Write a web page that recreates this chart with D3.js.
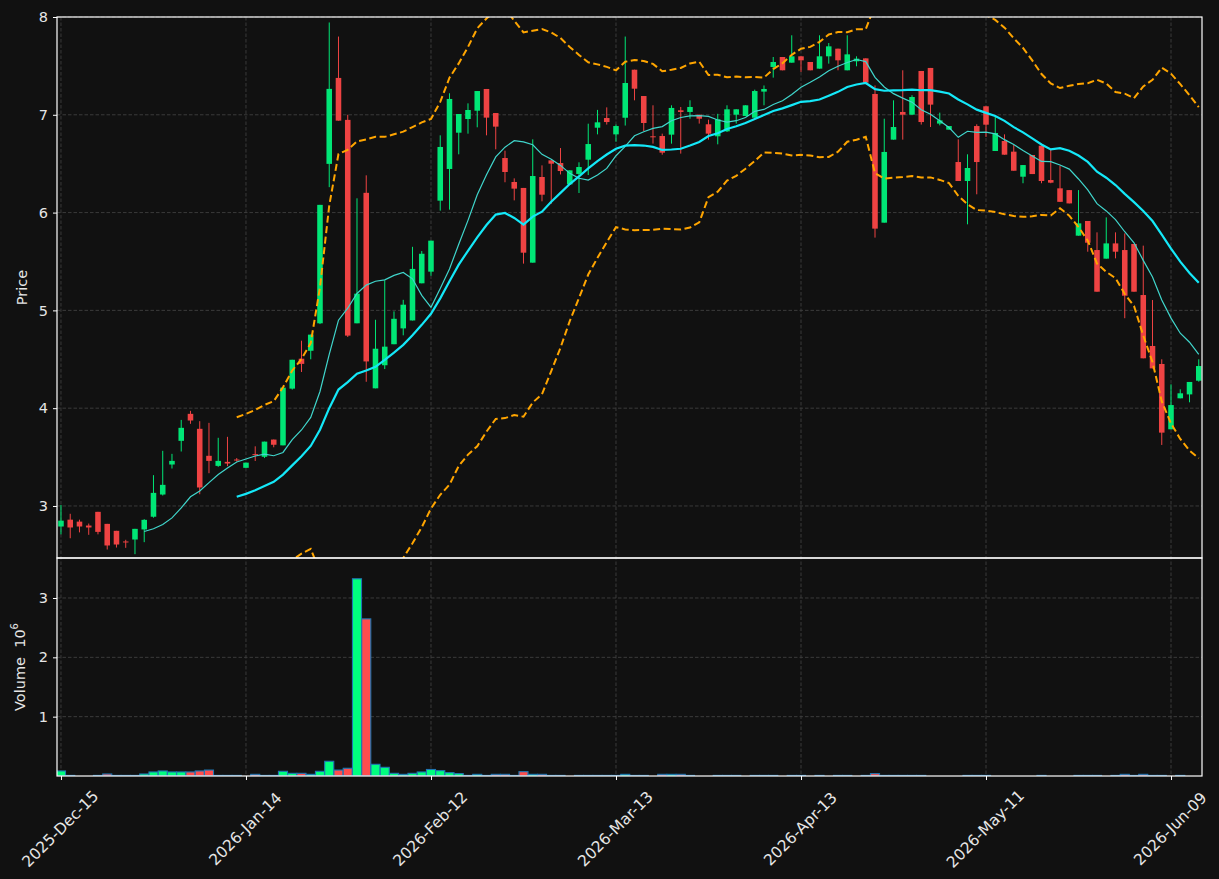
<!DOCTYPE html>
<html>
<head>
<meta charset="utf-8">
<script src="https://cdn.jsdelivr.net/npm/d3@7/dist/d3.min.js"></script>
<style>
  html, body { margin: 0; padding: 0; background: #111111; }
  svg { display: block; }
</style>
</head>
<body>
<div id="chart"></div>
<script>
// ---------------- DATA ----------------
const openP = [2.79,2.86,2.84,2.80,2.94,2.817,2.746,2.637,2.657,2.76,
  2.89,3.117,3.424,3.666,3.942,3.789,3.513,3.41,3.451,3.475,
  3.39,3.53,3.503,3.679,3.62,4.20,4.506,4.587,4.868,6.498,
  7.377,6.948,4.868,6.202,4.203,4.439,4.654,4.816,4.897,5.277,
  5.396,6.122,6.446,6.817,6.957,7.042,7.264,7.018,6.558,6.313,
  6.252,5.488,6.364,6.534,6.507,6.289,6.395,6.541,6.868,6.967,
  6.80,6.97,7.461,7.192,6.78,6.783,6.797,7.046,7.029,7.001,
  6.903,6.78,6.831,7.001,6.988,6.97,7.237,7.489,7.591,7.533,
  7.598,7.54,7.472,7.598,7.676,7.455,7.547,7.577,7.213,5.897,
  6.746,7.029,7.001,7.448,7.479,6.91,6.848,6.517,6.323,6.885,
  7.087,6.63,6.732,6.623,6.367,6.589,6.684,6.333,6.248,6.23,
  5.764,5.914,5.617,5.529,5.685,5.617,5.679,5.157,4.636,4.452,
  3.784,4.101,4.141,4.281];
const highP = [3.01,2.92,2.86,2.82,2.94,2.817,2.746,2.654,2.766,2.865,
  3.315,3.564,3.533,3.88,3.973,3.867,3.85,3.697,3.707,3.49,
  3.443,3.61,3.658,3.679,4.21,4.495,4.69,4.752,6.079,7.944,
  7.80,7.0,6.146,6.381,4.904,5.308,4.99,5.108,5.65,5.607,
  5.713,6.79,7.22,7.008,7.117,7.243,7.264,7.018,6.633,6.35,
  6.252,6.749,6.483,6.534,6.66,6.432,6.514,6.909,7.05,7.076,
  6.90,7.80,7.461,7.192,7.097,6.807,7.097,7.08,7.148,7.001,
  6.95,7.01,7.097,7.056,7.097,7.257,7.30,7.591,7.591,7.813,
  7.598,7.54,7.813,7.734,7.676,7.813,7.598,7.577,7.30,6.96,
  7.148,7.455,7.2,7.448,7.479,7.022,6.885,6.749,6.596,6.903,
  7.087,6.984,6.80,6.691,6.486,6.589,6.684,6.64,6.48,6.23,
  6.23,5.914,5.798,5.951,5.798,5.787,5.679,5.662,5.106,4.50,
  4.244,4.193,4.268,4.50];
const lowP = [2.71,2.67,2.73,2.705,2.71,2.555,2.575,2.572,2.507,2.63,
  2.88,3.107,3.383,3.557,3.84,3.12,3.335,3.40,3.407,3.455,
  3.39,3.46,3.49,3.60,3.62,4.19,4.37,4.50,4.86,6.26,
  6.94,4.728,4.868,4.27,4.203,4.40,4.654,4.745,4.897,5.277,
  5.354,6.02,6.03,6.596,6.807,6.872,6.79,6.647,6.31,6.125,
  5.478,5.488,6.115,6.09,6.39,6.289,6.20,6.384,6.80,6.90,
  6.725,6.89,7.148,6.834,6.705,6.592,6.705,6.603,6.96,6.91,
  6.746,6.698,6.824,6.91,6.988,6.97,7.097,7.38,7.455,7.533,
  7.438,7.455,7.472,7.523,7.455,7.455,7.496,7.329,5.744,5.897,
  6.746,6.746,7.001,6.90,6.875,6.892,6.848,6.323,5.88,6.187,
  6.773,6.63,6.592,6.428,6.30,6.394,6.30,6.30,6.11,6.094,
  5.764,5.60,5.191,5.529,5.532,4.92,5.191,4.51,4.407,3.624,
  3.784,4.101,4.06,4.271];
const closeP = [2.85,2.78,2.79,2.78,2.735,2.596,2.606,2.627,2.766,2.858,
  3.134,3.216,3.461,3.799,3.874,3.189,3.461,3.461,3.434,3.47,
  3.443,3.52,3.658,3.626,4.21,4.495,4.453,4.752,6.079,7.265,
  6.94,4.742,5.171,4.478,4.608,4.629,4.914,5.058,5.424,5.579,
  5.713,6.671,7.162,7.008,7.049,7.243,6.971,6.879,6.415,6.245,
  5.59,6.374,6.183,6.50,6.425,6.432,6.466,6.701,6.923,6.926,
  6.885,7.325,7.267,6.916,6.77,6.613,7.07,7.029,7.08,6.96,
  6.807,6.954,7.056,7.056,7.097,7.243,7.264,7.54,7.455,7.598,
  7.557,7.455,7.598,7.70,7.557,7.618,7.574,7.329,5.836,6.62,
  6.875,7.001,7.182,6.926,7.104,6.943,6.885,6.323,6.456,6.517,
  6.899,6.814,6.592,6.428,6.486,6.394,6.323,6.306,6.11,6.094,
  5.89,5.692,5.191,5.685,5.60,5.15,5.191,4.51,4.407,3.75,
  4.032,4.152,4.268,4.431];
// volume in millions
const volumeM = [0.085,0.01,0,0,0.01,0.034,0.01,0.01,0.01,0.034,
  0.068,0.085,0.068,0.068,0.068,0.085,0.10,0.01,0.01,0.01,
  0,0.028,0.01,0.01,0.079,0.045,0.045,0.028,0.079,0.248,
  0.10,0.13,3.324,2.648,0.197,0.146,0.045,0.028,0.045,0.068,
  0.11,0.09,0.056,0.04,0.01,0.028,0.01,0.028,0.028,0.01,
  0.073,0.028,0.028,0.01,0.01,0,0.01,0.01,0.01,0.01,
  0.01,0.028,0.01,0.01,0,0.028,0.028,0.028,0.01,0,
  0,0.01,0.01,0.01,0,0.01,0.01,0.01,0,0.01,
  0.01,0,0.01,0,0.01,0.01,0,0.01,0.04,0.01,
  0.01,0.01,0.01,0.01,0,0,0,0,0.01,0.01,
  0.01,0,0,0,0,0,0.01,0,0,0,
  0.01,0.01,0.01,0,0.01,0.028,0.01,0.028,0.01,0.01,
  0,0.01,0,0];
const tickIndex = [0,20,40,60,80,100,120];
const tickLabels = ["2025-Dec-15","2026-Jan-14","2026-Feb-12","2026-Mar-13","2026-Apr-13","2026-May-11","2026-Jun-09"];
const priceTicks = [3,4,5,6,7,8];
const volumeTicks = [1,2,3];
const maShort = 10, maLong = 20, bandWidthSd = 2;

// ---------------- LAYOUT ----------------
const W = 1219, H = 879;
const L = 57, R = 1202;
const pTop = 17, pBot = 558, vTop = 558, vBot = 776;
const bg = "#111111", fg = "#ffffff", txt = "#e6e6e6", grid = "#404040";
const upC = "#00e676", dnC = "#ef4343", upV = "#00ff7f", dnV = "#ff4d4d", volEdge = "#1f77b4";
const font = "DejaVu Sans, Verdana, sans-serif";
const fs = "14.5px";
const fsDate = "15.5px";

const n = closeP.length;
const data = d3.range(n).map(i => ({i, o: openP[i], h: highP[i], l: lowP[i], c: closeP[i], v: volumeM[i]}));

const x = d3.scaleLinear().domain([-0.43, 123.35]).range([L, R]);
const step = x(1) - x(0);
const yP = d3.scaleLinear().domain([2.468, 8.0]).range([pBot, pTop]);
const yV = d3.scaleLinear().domain([0, 3.674]).range([vBot, vTop]);

// indicators from close prices
function sma(arr, k) {
  return arr.map((_, i) => i < k - 1 ? null : d3.mean(arr.slice(i - k + 1, i + 1)));
}
function sd(arr, k) {
  return arr.map((_, i) => i < k - 1 ? null : d3.deviation(arr.slice(i - k + 1, i + 1)));
}
const ma10 = sma(closeP, maShort);
const ma20 = sma(closeP, maLong);
const sd20 = sd(closeP, maLong);
const upper = ma20.map((m, i) => m == null ? null : m + bandWidthSd * sd20[i]);
const lower = ma20.map((m, i) => m == null ? null : m - bandWidthSd * sd20[i]);

const svg = d3.select("#chart").append("svg").attr("width", W).attr("height", H)
  .style("font-family", font);
svg.append("rect").attr("width", W).attr("height", H).attr("fill", bg);

const defs = svg.append("defs");
defs.append("clipPath").attr("id", "clipP").append("rect")
  .attr("x", L).attr("y", pTop).attr("width", R - L).attr("height", pBot - pTop);
defs.append("clipPath").attr("id", "clipV").append("rect")
  .attr("x", L).attr("y", vTop).attr("width", R - L).attr("height", vBot - vTop);

// ---------------- GRID ----------------
const gGrid = svg.append("g").attr("stroke", grid).attr("stroke-width", 0.9).attr("stroke-dasharray", "3.5,2");
gGrid.selectAll(".hp").data(priceTicks).join("line")
  .attr("x1", L).attr("x2", R).attr("y1", d => yP(d)).attr("y2", d => yP(d));
gGrid.selectAll(".hv").data(volumeTicks).join("line").attr("class", "hv")
  .attr("x1", L).attr("x2", R).attr("y1", d => yV(d)).attr("y2", d => yV(d));
gGrid.selectAll(".vg").data(tickIndex).join("line").attr("class", "vg")
  .attr("x1", d => x(d)).attr("x2", d => x(d)).attr("y1", pTop).attr("y2", vBot);

// ---------------- CANDLES ----------------
const gC = svg.append("g").attr("clip-path", "url(#clipP)");
const bw = step * 0.6;
gC.selectAll(".wick").data(data).join("line")
  .attr("x1", d => x(d.i)).attr("x2", d => x(d.i))
  .attr("y1", d => yP(d.h)).attr("y2", d => yP(d.l))
  .attr("stroke", d => d.c >= d.o ? upC : dnC).attr("stroke-width", 1);
gC.selectAll(".body").data(data).join("rect")
  .attr("x", d => x(d.i) - bw / 2).attr("width", bw)
  .attr("y", d => yP(Math.max(d.o, d.c)))
  .attr("height", d => Math.max(1, Math.abs(yP(d.o) - yP(d.c))))
  .attr("fill", d => d.c >= d.o ? upC : dnC);

// ---------------- LINES ----------------
function lineOf(arr) {
  return d3.line().defined(d => d != null).x((d, i) => x(i)).y(d => yP(d))(arr);
}
const gL = svg.append("g").attr("clip-path", "url(#clipP)").attr("fill", "none");
gL.append("path").attr("d", lineOf(upper)).attr("stroke", "#ffa500").attr("stroke-width", 2).attr("stroke-dasharray", "7,3.5");
gL.append("path").attr("d", lineOf(lower)).attr("stroke", "#ffa500").attr("stroke-width", 2).attr("stroke-dasharray", "7,3.5");
gL.append("path").attr("d", lineOf(ma10)).attr("stroke", "#40d6cc").attr("stroke-width", 1.2);
gL.append("path").attr("d", lineOf(ma20)).attr("stroke", "#14e8f8").attr("stroke-width", 2.2);

// ---------------- VOLUME ----------------
const gV = svg.append("g").attr("clip-path", "url(#clipV)");
const vw = step * 0.98;
gV.selectAll("rect").data(data.filter(d => d.v > 0)).join("rect")
  .attr("x", d => x(d.i) - vw / 2).attr("width", vw)
  .attr("y", d => yV(d.v)).attr("height", d => yV(0) - yV(d.v))
  .attr("fill", d => d.c >= d.o ? upV : dnV)
  .attr("stroke", volEdge).attr("stroke-width", 1.1);

// ---------------- AXES ----------------
function styleAxis(g) {
  g.select(".domain").remove();
  g.selectAll(".tick line").attr("stroke", fg);
  g.selectAll(".tick text").attr("fill", txt).style("font-size", fs).style("font-family", font);
}
svg.append("g").attr("transform", `translate(${L},0)`)
  .call(d3.axisLeft(yP).tickValues(priceTicks).tickFormat(d3.format("d")).tickSize(4).tickPadding(5))
  .call(styleAxis);
svg.append("g").attr("transform", `translate(${L},0)`)
  .call(d3.axisLeft(yV).tickValues(volumeTicks).tickFormat(d3.format("d")).tickSize(4).tickPadding(5))
  .call(styleAxis);
const gx = svg.append("g").attr("transform", `translate(0,${vBot})`)
  .call(d3.axisBottom(x).tickValues(tickIndex).tickFormat((d, k) => tickLabels[k]).tickSize(4))
  .call(styleAxis);
gx.selectAll(".tick text")
  .style("font-size", fsDate)
  .attr("y", 0).attr("dy", null)
  .attr("text-anchor", "middle")
  .attr("dominant-baseline", "central")
  .attr("transform", "translate(-1,53) rotate(-45)");

// frames
const frame = svg.append("g").attr("fill", "none").attr("stroke", fg).attr("stroke-width", 1.2);
frame.append("rect").attr("x", L).attr("y", pTop).attr("width", R - L).attr("height", pBot - pTop);
frame.append("rect").attr("x", L).attr("y", vTop).attr("width", R - L).attr("height", vBot - vTop);

// axis labels
svg.append("text").attr("transform", `translate(22,${(pTop + pBot) / 2}) rotate(-90)`)
  .attr("text-anchor", "middle").attr("dominant-baseline", "central")
  .attr("fill", txt).style("font-size", fs).text("Price");
const vl = svg.append("text").attr("transform", `translate(20,${(vTop + vBot) / 2}) rotate(-90)`)
  .attr("text-anchor", "middle").attr("dominant-baseline", "central")
  .attr("fill", txt).style("font-size", fs);
vl.append("tspan").text("Volume\u00a0\u00a010");
vl.append("tspan").attr("dy", -6).style("font-size", "10px").text("6");
</script>
</body>
</html>
